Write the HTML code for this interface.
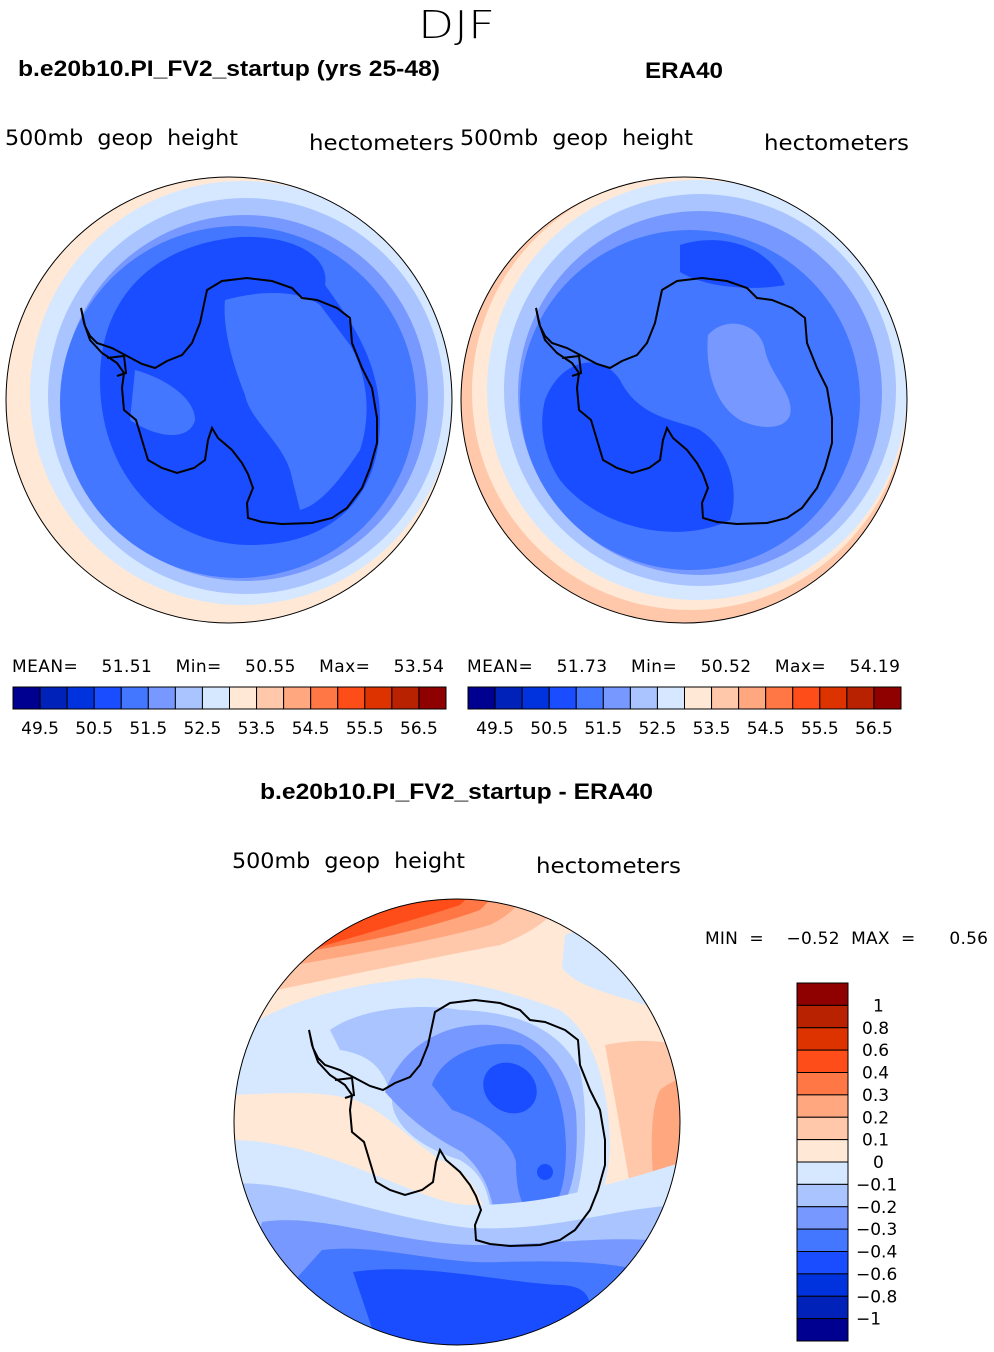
<!DOCTYPE html>
<html><head><meta charset="utf-8"><style>
body{margin:0;background:#fff;}
svg{display:block;font-family:"Liberation Sans",sans-serif;}
text{white-space:pre;}
.t{font-family:"DejaVu Sans","Liberation Sans",sans-serif;font-size:21px;fill:#000;}
.b{font-weight:bold;font-size:22px;}
.s{font-family:"DejaVu Sans","Liberation Sans",sans-serif;font-size:17px;fill:#000;}
</style></head><body>
<svg id="c" width="994" height="1352" viewBox="0 0 994 1352">
<defs>
<clipPath id="k1"><circle cx="229" cy="400" r="223"/></clipPath>
<clipPath id="k2"><circle cx="684" cy="400" r="223"/></clipPath>
<clipPath id="k3"><circle cx="457" cy="1122" r="223"/></clipPath>
<g id="ant">
<path d="M309,1030 L313,1048 L318,1058 L325,1065 L340,1070 L355,1078 L370,1086 L383,1090 L395,1083 L410,1077 L420,1065 L428,1045 L435,1012 L450,1003 L475,1000 L500,1003 L520,1010 L530,1020 L545,1022 L565,1030 L578,1040 L580,1065 L590,1090 L600,1110 L605,1140 L605,1165 L598,1190 L590,1210 L575,1230 L560,1240 L540,1245 L510,1246 L490,1244 L476,1240 L475,1225 L481,1210 L476,1196 L470,1185 L460,1172 L446,1160 L440,1150 L436,1162 L433,1182 L422,1190 L405,1195 L390,1190 L376,1182 L370,1162 L364,1142 L352,1132 L350,1110 L352,1095 L345,1085 L330,1075 L318,1062 L312,1045 Z" fill="none" stroke="#000" stroke-width="2"/>
<path d="M335,1080 L352,1078 L354,1095 L345,1098" fill="none" stroke="#000" stroke-width="2"/>
</g>
</defs>
<text x="418" y="38" class="t" textLength="77" lengthAdjust="spacingAndGlyphs" style="font-size:38px;font-weight:300">DJF</text>
<text x="18" y="76" class="b" textLength="422" lengthAdjust="spacingAndGlyphs">b.e20b10.PI_FV2_startup (yrs 25-48)</text>
<text x="645" y="78" class="b" textLength="78" lengthAdjust="spacingAndGlyphs">ERA40</text>
<text x="5" y="145" class="t" textLength="233" lengthAdjust="spacingAndGlyphs">500mb  geop  height</text>
<text x="309" y="150" class="t" textLength="145" lengthAdjust="spacingAndGlyphs">hectometers</text>
<text x="460" y="145" class="t" textLength="233" lengthAdjust="spacingAndGlyphs">500mb  geop  height</text>
<text x="764" y="150" class="t" textLength="145" lengthAdjust="spacingAndGlyphs">hectometers</text>

<g clip-path="url(#k1)">
<rect x="0" y="170" width="460" height="460" fill="#ffe8d5"/>
<circle cx="242" cy="393" r="212" fill="#d5e8ff"/>
<circle cx="246" cy="396" r="198" fill="#aac4ff"/>
<circle cx="245" cy="398" r="183" fill="#7799ff"/>
<ellipse cx="238" cy="402" rx="178" ry="176" fill="#4477ff"/>
<path d="M100,380 C100,300 150,245 240,237 C300,235 330,260 325,285 C350,320 380,360 380,420 C380,500 330,545 250,545 C170,545 100,480 100,380Z" fill="#1a4dff"/>
<path d="M225,300 C260,290 300,290 320,305 L350,345 C370,380 370,420 360,450 C340,480 320,505 300,510 L290,470 C280,440 250,420 245,395 C235,370 222,330 225,300Z" fill="#4477ff"/>
<path d="M135,370 C170,380 195,400 195,420 C190,440 160,440 130,420Z" fill="#4477ff"/>
<use href="#ant" transform="translate(-228,-722)"/>
</g>
<circle cx="229" cy="400" r="223" fill="none" stroke="#000" stroke-width="1"/>

<g clip-path="url(#k2)">
<rect x="455" y="170" width="460" height="460" fill="#ffc8aa"/>
<circle cx="690" cy="392" r="218" fill="#ffe8d5"/>
<circle cx="697" cy="390" r="210" fill="#d5e8ff"/>
<circle cx="700" cy="390" r="196" fill="#aac4ff"/>
<circle cx="700" cy="393" r="182" fill="#7799ff"/>
<ellipse cx="690" cy="400" rx="170" ry="170" fill="#4477ff"/>
<path d="M545,400 C560,360 600,350 620,380 C640,420 680,420 700,430 C730,450 740,490 730,520 C680,545 600,530 560,480 C540,450 540,420 545,400Z" fill="#1a4dff"/>
<path d="M680,245 C720,232 770,245 785,285 C760,290 710,290 680,272Z" fill="#1a4dff"/>
<path d="M708,335 C725,315 760,322 765,350 C770,375 795,395 790,415 C785,430 760,430 740,420 C715,405 705,370 708,335Z" fill="#7799ff"/>
<use href="#ant" transform="translate(227,-722)"/>
</g>
<circle cx="684" cy="400" r="223" fill="none" stroke="#000" stroke-width="1"/>

<text x="12" y="672" class="s" textLength="432" lengthAdjust="spacing">MEAN=    51.51    Min=    50.55    Max=    53.54</text>
<text x="467" y="672" class="s" textLength="433" lengthAdjust="spacing">MEAN=    51.73    Min=    50.52    Max=    54.19</text>
<g id="cb1"></g>
<g id="cb2"></g>

<text x="260" y="799" class="b" textLength="393" lengthAdjust="spacingAndGlyphs">b.e20b10.PI_FV2_startup - ERA40</text>
<text x="232" y="868" class="t" textLength="233" lengthAdjust="spacingAndGlyphs">500mb  geop  height</text>
<text x="536" y="873" class="t" textLength="145" lengthAdjust="spacingAndGlyphs">hectometers</text>
<text x="705" y="944" class="s" textLength="283" lengthAdjust="spacing">MIN  =    −0.52  MAX  =      0.56</text>

<g clip-path="url(#k3)">
<rect x="230" y="895" width="460" height="460" fill="#ffe8d5"/>
<path d="M230,1000 C300,985 420,960 500,945 C540,930 560,910 570,890 L230,890Z" fill="#ffc8aa"/>
<path d="M240,975 C320,960 420,945 490,925 C510,915 520,905 525,890 L240,890Z" fill="#ffa880"/>
<path d="M270,957 C340,947 420,932 480,910 L500,890 L270,890Z" fill="#ff7744"/>
<path d="M310,950 C360,935 420,918 460,905 L475,890 L310,890Z" fill="#ff4d1a"/>
<path d="M605,1045 C640,1038 670,1040 690,1050 L690,1300 L640,1250 C630,1180 615,1100 605,1045Z" fill="#ffc8aa"/>
<path d="M660,1090 C672,1080 690,1075 690,1075 L690,1220 L655,1200 C650,1150 650,1110 660,1090Z" fill="#ffa880"/>
<path d="M565,935 C600,920 640,935 665,975 L660,1010 C620,995 580,990 562,968Z" fill="#d5e8ff"/>
<path d="M230,1095 L230,1040 C270,1005 340,985 420,978 C470,980 520,995 560,1010 C590,1030 610,1080 610,1150 C605,1210 585,1240 560,1245 L490,1225 C480,1195 470,1170 440,1160 L420,1145 C395,1125 380,1110 355,1100 C320,1090 280,1093 230,1095Z" fill="#d5e8ff"/>
<path d="M330,1030 C360,1008 420,1003 460,1010 C520,1012 560,1030 580,1070 C592,1130 582,1200 560,1240 L492,1225 C490,1188 480,1172 460,1160 C412,1145 392,1120 392,1100 C385,1070 372,1055 340,1050Z" fill="#aac4ff"/>
<path d="M385,1092 C400,1050 440,1022 490,1025 C540,1030 570,1070 576,1112 C580,1170 570,1210 545,1222 L495,1222 C492,1190 482,1170 462,1152 C430,1135 410,1120 385,1092Z" fill="#7799ff"/>
<path d="M432,1085 C442,1055 480,1040 520,1045 C550,1060 566,1100 566,1150 C566,1190 556,1212 540,1215 C522,1215 516,1192 516,1162 C511,1140 482,1120 452,1110Z" fill="#4477ff"/>
<ellipse cx="510" cy="1088" rx="28" ry="24" transform="rotate(35 510 1088)" fill="#1a4dff"/>
<circle cx="545" cy="1172" r="8" fill="#1a4dff"/>
<path d="M230,1140 C330,1140 420,1205 470,1205 C560,1205 620,1180 690,1160 L690,1352 L230,1352Z" fill="#d5e8ff"/>
<path d="M230,1185 C280,1175 380,1218 470,1228 C560,1232 620,1205 690,1205 L690,1352 L230,1352Z" fill="#aac4ff"/>
<path d="M262,1222 C320,1212 400,1245 480,1245 C560,1245 620,1232 690,1245 L690,1352 L230,1352Z" fill="#7799ff"/>
<path d="M322,1250 C380,1243 440,1265 500,1262 C580,1260 620,1262 680,1280 L690,1352 L230,1352Z" fill="#4477ff"/>
<path d="M353,1272 C420,1262 500,1282 560,1285 C590,1286 600,1300 580,1352 L380,1352Z" fill="#1a4dff"/>
<use href="#ant" transform="translate(0,0)"/>
</g>
<circle cx="457" cy="1122" r="223" fill="none" stroke="#000" stroke-width="1"/>
<g id="cb3"></g>
</svg>
<script>
const colors=['#000090','#0022b8','#0033dd','#1a4dff','#4477ff','#7799ff','#aac4ff','#d5e8ff','#ffe8d5','#ffc8aa','#ffa880','#ff7744','#ff4d1a','#dd3300','#b82200','#8f0000'];
const absLabels=['49.5','50.5','51.5','52.5','53.5','54.5','55.5','56.5'];
const diffLabels=['1','0.8','0.6','0.4','0.3','0.2','0.1','0','−0.1','−0.2','−0.3','−0.4','−0.6','−0.8','−1'];
const NS='http://www.w3.org/2000/svg';
function mk(t,a){const e=document.createElementNS(NS,t);for(const k in a)e.setAttribute(k,a[k]);return e;}
function hbar(id,x0,y0,w,h){
  const g=document.getElementById(id);const bw=w/colors.length;
  colors.forEach((c,i)=>{const r=mk('rect',{x:x0+i*bw,y:y0,width:bw,height:h,fill:c,stroke:'#000','stroke-width':1});
    
    g.appendChild(r);});
  absLabels.forEach((l,i)=>{const t=mk('text',{x:x0+bw*(1+2*i),y:y0+47,'text-anchor':'middle','class':'s'});t.textContent=l;
    
    g.appendChild(t);});
}
hbar('cb1',13,687,433,22);
hbar('cb2',468,687,433,22);
(function(){
  const g=document.getElementById('cb3');const x0=797,y0=983,w=51,h=358;const bh=h/colors.length;
  colors.slice().reverse().forEach((c,i)=>{const r=mk('rect',{x:x0,y:y0+i*bh,width:w,height:bh,fill:c,stroke:'#000','stroke-width':1});
    
    g.appendChild(r);});
  diffLabels.forEach((l,i)=>{const t=mk('text',{x:l.startsWith('−')?856:(l.length>1?862:873),y:y0+bh*(i+1)+6,'class':'s'});t.textContent=l;
    
    g.appendChild(t);});
})();
</script>
</body></html>
